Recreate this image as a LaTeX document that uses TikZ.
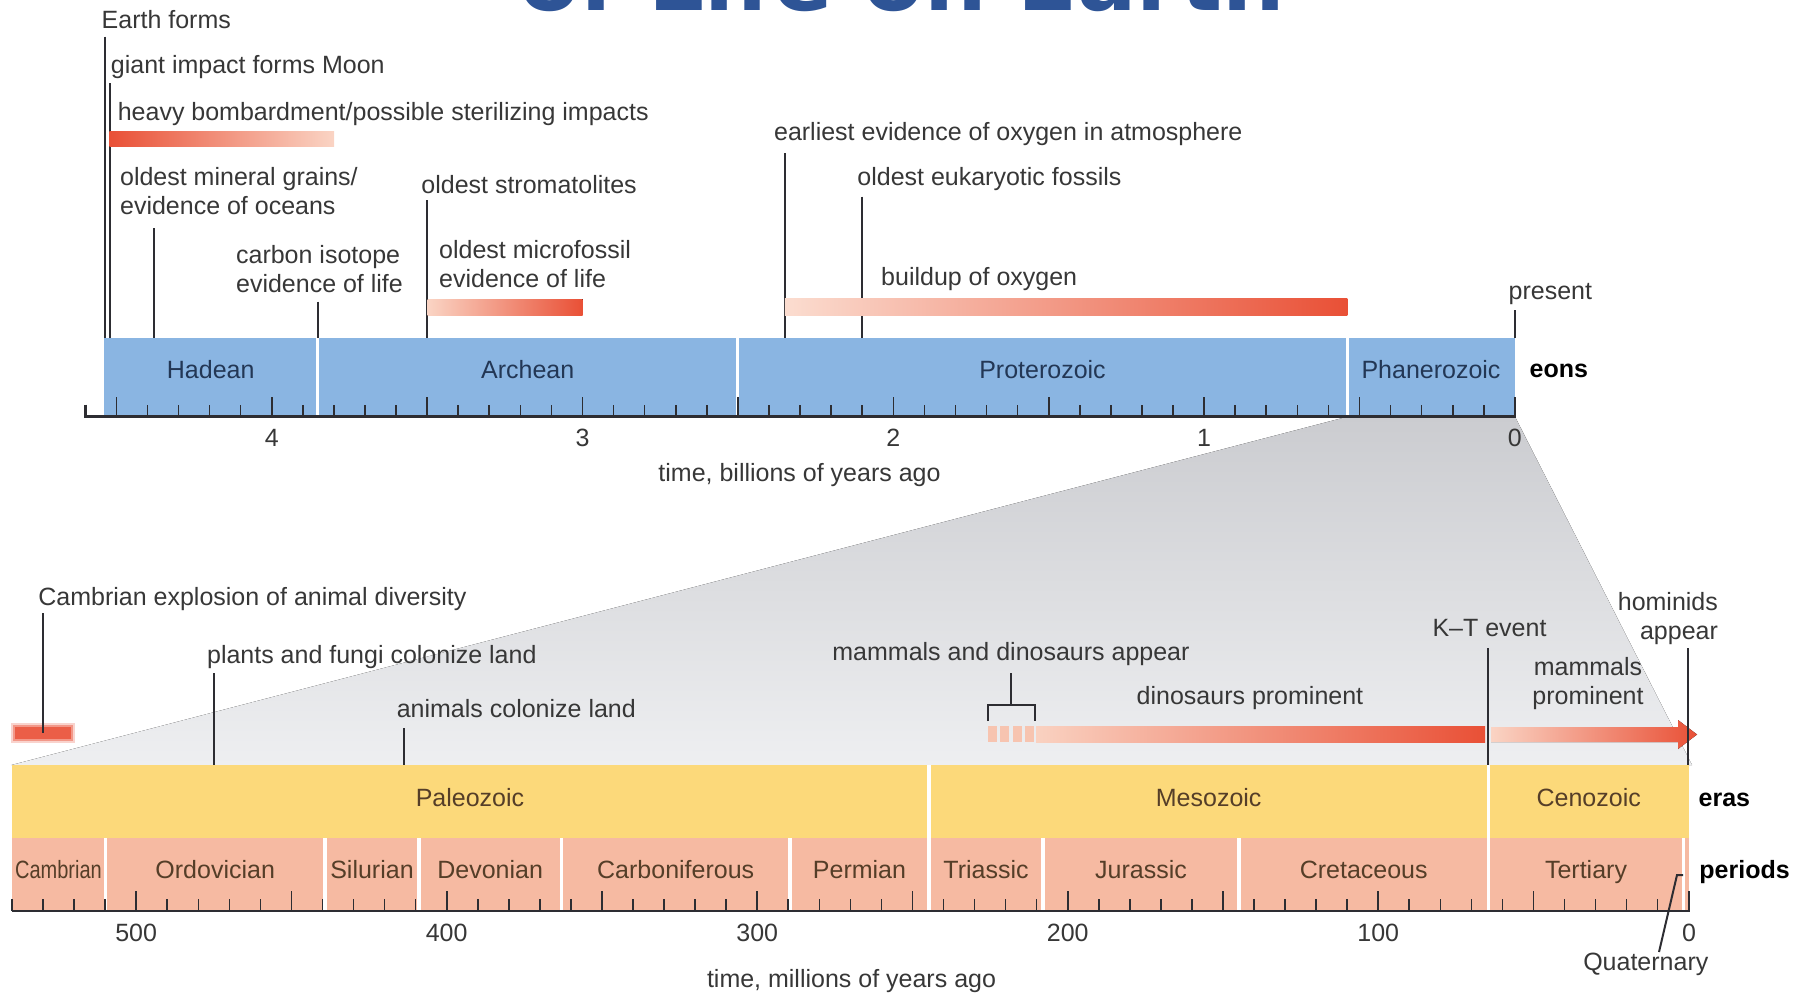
\documentclass[tikz,border=0pt]{standalone}
\usepackage{fontspec}
\setmainfont{Liberation Sans}
\newfontfamily\titlefont{DejaVu Sans}
\usepackage{graphicx}
\usetikzlibrary{calc}

\definecolor{eonblue}{RGB}{138,181,226}
\definecolor{erayellow}{RGB}{252,217,122}
\definecolor{persalmon}{RGB}{246,186,162}
\definecolor{redhot}{RGB}{233,80,54}
\definecolor{redpale}{RGB}{250,212,196}
\definecolor{txt}{RGB}{55,55,55}
\definecolor{eontxt}{RGB}{35,55,85}
\definecolor{eratxt}{RGB}{85,62,40}
\definecolor{axisc}{RGB}{45,45,50}
\definecolor{titleblue}{RGB}{46,84,150}
\definecolor{grayTop}{RGB}{203,204,208}
\definecolor{grayBot}{RGB}{238,239,241}

\newcommand\lblfont{\fontsize{12.5}{14.5}\selectfont}
\newcommand\twoL[2]{\vtop{\hbox{#1}\hbox{#2}}}
\newcommand\twoR[2]{\vtop{\halign{\hfil##\cr#1\cr#2\cr}}}
\newcommand\twoC[2]{\vtop{\halign{\hfil##\hfil\cr#1\cr#2\cr}}}

\tikzset{
  lbl/.style={font=\lblfont, text=txt, inner sep=0pt, anchor=base west},
  lblc/.style={lbl, anchor=base},
  lblr/.style={lbl, anchor=base east},
  eonlbl/.style={lblc, text=eontxt},
  eralbl/.style={lblc, text=eratxt},
  rowlbl/.style={lbl, font=\lblfont\bfseries, text=black},
  evline/.style={draw=axisc, line width=1pt},
  axisline/.style={draw=axisc, line width=1.4pt},
  tickline/.style={draw=axisc, line width=0.8pt},
  sepline/.style={draw=white, line width=1.6pt},
}

\begin{document}
\begin{tikzpicture}[x=0.5pt,y=0.5pt]
\useasboundingbox (0,0) rectangle (1805,-996);

% title (cut off at the top edge, as in the reference)
\begin{scope}
\clip (0,0) rectangle (1805,-996);
\node[font=\titlefont\bfseries\fontsize{44}{44}\selectfont, text=titleblue, inner sep=0pt, anchor=base west] (title) at (519,-10) {of Life on Earth};
\end{scope}

% grey projection
\fill[top color=grayTop, bottom color=grayBot] (1347.5,-416.7) -- (1515,-416.7) -- (1692,-765) -- (11.5,-765) -- cycle;

% ---------- upper eon bar ----------
\coordinate (eonTop) at (0,-338);
\fill[eonblue] (103.5,-338) rectangle (1515,-416.7);
\foreach \sx in {317.7,737.7,1347.5}{\draw[sepline] (\sx,-338) -- (\sx,-416);}
\foreach \i in {1,...,45}{
  \pgfmathsetmacro\tkx{1514.9-31.08*\i}
  \pgfmathtruncatemacro\tkm{mod(\i,5)}
  \ifnum\tkm=0 \def\tkh{20}\else\def\tkh{12}\fi
  \draw[tickline] (\tkx,-416.7) -- ++(0,\tkh);
}
\draw[axisline] (85.2,-404.7) -- (85.2,-416.7) -- (1514.9,-416.7) -- (1514.9,-396.7);

\node[eonlbl] (hadean) at (210.7,-378) {Hadean};
\node[eonlbl] (archean) at (527.7,-378) {Archean};
\node[eonlbl] (proterozoic) at (1042.5,-378) {Proterozoic};
\node[eonlbl] (phanerozoic) at (1431,-378) {Phanerozoic};
\node[rowlbl] (tEons) at (1529.3,-377) {eons};

\node[lblc] (g4) at (271.7,-446.7) {4};
\node[lblc] (g3) at (582.5,-446.7) {3};
\node[lblc] (g2) at (893.3,-446.7) {2};
\node[lblc] (g1) at (1204.1,-446.7) {1};
\node[lblc] (g0) at (1514.9,-446.7) {0};
\node[lblc] (tGyr) at (799.5,-481.7) {time, billions of years ago};

% upper event lines
\coordinate (eEarth) at (104.5,-36.7);
\coordinate (eMoon) at (110.3,-83.3);
\coordinate (eMin) at (153.6,-228.3);
\coordinate (eCarb) at (317.9,-301.7);
\coordinate (eStrom) at (427.2,-200);
\coordinate (eOxy) at (784.8,-153.3);
\coordinate (eEuk) at (861.6,-196.7);
\coordinate (ePres) at (1514.5,-310);
\foreach \e in {eEarth,eMoon,eMin,eCarb,eStrom,eOxy,eEuk,ePres}{\draw[evline] (\e) -- (\e |- eonTop);}

% upper gradient bars
\fill[left color=redhot, right color=redpale] (109.4,-131.7) rectangle (334,-146.7);
\fill[left color=redpale, right color=redhot] (427.7,-299.3) rectangle (582.6,-315);
\fill[left color=redpale!80!white, right color=redhot] (784.8,-298.3) rectangle (1347.3,-315);

% upper labels
\node[lbl] (tEarth) at (101.3,-28) {Earth forms};
\node[lbl] (tMoon) at (110.5,-73) {giant impact forms Moon};
\node[lbl] (tBomb) at (117.4,-120.7) {heavy bombardment/possible sterilizing impacts};
\node[lbl] (tMin) at (119.7,-185) {\twoL{oldest mineral grains/}{evidence of oceans}};
\node[lbl] (tCarb) at (235.7,-263.3) {\twoL{carbon isotope}{evidence of life}};
\node[lbl] (tStrom) at (421,-193.3) {oldest stromatolites};
\node[lbl] (tMicro) at (438.8,-258.3) {\twoL{oldest microfossil}{evidence of life}};
\node[lbl] (tOxy) at (773.7,-140) {earliest evidence of oxygen in atmosphere};
\node[lbl] (tEuk) at (857,-185.7) {oldest eukaryotic fossils};
\node[lbl] (tBuild) at (880.8,-285) {buildup of oxygen};
\node[lbl] (tPresent) at (1508.3,-299) {present};

% ---------- lower era / period bars ----------
\coordinate (eraTop) at (0,-765);
\fill[erayellow] (11.5,-765) rectangle (1689,-838);
\fill[persalmon] (11.5,-838) rectangle (1689,-911);
\foreach \sx in {929,1488.5}{\draw[sepline] (\sx,-765) -- (\sx,-910);}
\foreach \sx in {105.5,325,419,561.5,790,1043,1239,1683.3}{\draw[sepline] (\sx,-838) -- (\sx,-910);}
\foreach \i in {1,...,54}{
  \pgfmathsetmacro\tkx{1688.7-31.05*\i}
  \pgfmathtruncatemacro\tkm{mod(\i,5)}
  \ifnum\tkm=0 \def\tkh{20}\else\def\tkh{12}\fi
  \draw[tickline] (\tkx,-911) -- ++(0,\tkh);
}
\draw[axisline] (11.5,-911) -- (1689,-911) -- (1689,-891);

\node[eralbl] (paleozoic) at (470,-806.7) {Paleozoic};
\node[eralbl] (mesozoic) at (1208.7,-806.7) {Mesozoic};
\node[eralbl] (cenozoic) at (1588.7,-806.7) {Cenozoic};
\node[rowlbl] (tEras) at (1698.3,-806.7) {eras};

\node[eralbl] (cambrian) at (58.5,-878.3) {\scalebox{0.8}[1]{Cambrian}};
\node[eralbl] (ordovician) at (215.2,-878.3) {Ordovician};
\node[eralbl] (silurian) at (372,-878.3) {Silurian};
\node[eralbl] (devonian) at (490.2,-878.3) {Devonian};
\node[eralbl] (carboniferous) at (675.7,-878.3) {Carboniferous};
\node[eralbl] (permian) at (859.5,-878.3) {Permian};
\node[eralbl] (triassic) at (986,-878.3) {Triassic};
\node[eralbl] (jurassic) at (1141,-878.3) {Jurassic};
\node[eralbl] (cretaceous) at (1363.7,-878.3) {Cretaceous};
\node[eralbl] (tertiary) at (1586,-878.3) {Tertiary};
\node[rowlbl] (tPer) at (1699,-878.3) {periods};

\node[lblc] (m500) at (136.2,-941.7) {500};
\node[lblc] (m400) at (446.7,-941.7) {400};
\node[lblc] (m300) at (757.2,-941.7) {300};
\node[lblc] (m200) at (1067.7,-941.7) {200};
\node[lblc] (m100) at (1378.2,-941.7) {100};
\node[lblc] (m0) at (1689,-941.7) {0};
\node[lblc] (tMyr) at (851.5,-987) {time, millions of years ago};

% Quaternary leader
\node[lblc] (tQuat) at (1645.8,-970) {Quaternary};
\coordinate (qA) at (1659,-952);
\coordinate (qB) at (1677,-875);
\coordinate (qC) at (1683,-875);
\draw[evline] (qA) -- (qB) -- (qC);

% lower bars
\fill[redhot, opacity=0.25] (11,-723) rectangle (75,-743);
\fill[redhot, opacity=0.45] (13,-725) rectangle (73,-741);
\fill[redhot, opacity=0.8] (15,-727) rectangle (71,-739);
\foreach \bx in {987.8,1000.3,1012.8,1025.3}{\fill[persalmon!85!white] (\bx,-726) rectangle ++(9,-16);}
\fill[left color=redpale!90!persalmon, right color=redhot] (1036,-726) rectangle (1485,-742);
\fill[left color=redpale, right color=redhot] (1491,-727) -- (1678,-727) -- (1678,-720) -- (1697,-734.5) -- (1678,-749) -- (1678,-742) -- (1491,-742) -- cycle;

% lower event lines
\coordinate (eCambTop) at (43.3,-613);
\coordinate (eCambBot) at (43.3,-733);
\draw[evline] (eCambTop) -- (eCambBot);
\coordinate (ePlants) at (214.3,-673.3);
\coordinate (eAnim) at (404,-728);
\coordinate (eKT) at (1488.3,-648);
\coordinate (eHom) at (1688,-648);
\foreach \e in {ePlants,eAnim,eKT,eHom}{\draw[evline] (\e) -- (\e |- eraTop);}
\coordinate (brL) at (987.8,-721);
\coordinate (brM) at (1010.7,-705);
\coordinate (brR) at (1034.9,-721);
\coordinate (brTop) at (1010.7,-673);
\draw[evline] (brTop) -- (brM);
\draw[evline] (brL) |- (brM) -| (brR);

% lower labels
\node[lbl] (tCamb) at (38,-605) {Cambrian explosion of animal diversity};
\node[lbl] (tPlants) at (206.7,-663.3) {plants and fungi colonize land};
\node[lbl] (tAnim) at (396.4,-717.3) {animals colonize land};
\node[lbl] (tMamDin) at (832,-660) {mammals and dinosaurs appear};
\node[lbl] (tDino) at (1136.3,-704) {dinosaurs prominent};
\node[lblc] (tKT) at (1489.5,-636.7) {K–T event};
\node[lblc] (tMamP) at (1588,-675) {\twoC{mammals}{prominent}};
\node[lblr] (tHom) at (1718.3,-610.7) {\twoR{hominids}{appear}};
\end{tikzpicture}
\end{document}
